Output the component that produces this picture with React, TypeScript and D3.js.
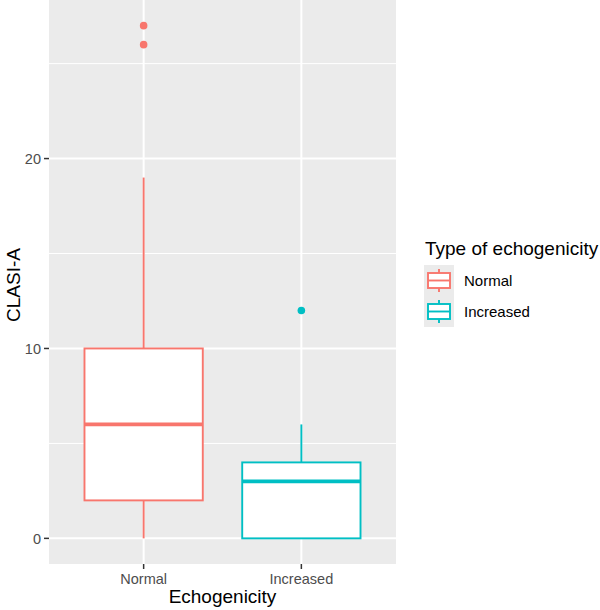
import React from "react";
import * as d3 from "d3";

const categories = ["Normal", "Increased"];
const colors = ["#F8766D", "#00BFC4"];
const lowerWhisker = [0, 0];
const q1 = [2, 0];
const median = [6, 3];
const q3 = [10, 4];
const upperWhisker = [19, 6];
const outliers = [[26, 27], [12]];
const yMajor = [0, 10, 20];
const yMinor = [5, 15, 25];

export default function App() {
  const W = 600, H = 610;
  const pl = 49, pr = 396, pt = 0, pb = 564;
  const y = d3.scaleLinear().domain([-1.35, 28.35]).range([pb, pt]);
  const x = d3.scaleLinear().domain([0.4, 2.6]).range([pl, pr]);
  const bw = 0.75;
  const font = "Liberation Sans, Arial, sans-serif";
  const lw = 1.9;
  return (
    <svg width={W} height={H} style={{ position: "absolute", left: 0, top: 0 }} fontFamily={font}>
      <rect x={0} y={0} width={W} height={H} fill="#fff" />
      <rect x={pl} y={pt} width={pr - pl} height={pb - pt} fill="#EBEBEB" />
      {yMinor.map((v) => (
        <line key={"mn" + v} x1={pl} x2={pr} y1={y(v)} y2={y(v)} stroke="#fff" strokeWidth={1} />
      ))}
      {yMajor.map((v) => (
        <line key={"mj" + v} x1={pl} x2={pr} y1={y(v)} y2={y(v)} stroke="#fff" strokeWidth={2} />
      ))}
      {categories.map((c, i) => (
        <line key={"vx" + c} x1={x(i + 1)} x2={x(i + 1)} y1={pt} y2={pb} stroke="#fff" strokeWidth={2} />
      ))}
      {categories.map((c, i) => {
        const cx = x(i + 1);
        const x0 = x(i + 1 - bw / 2), x1 = x(i + 1 + bw / 2);
        const col = colors[i];
        return (
          <g key={"box" + c}>
            <line x1={cx} x2={cx} y1={y(q3[i])} y2={y(upperWhisker[i])} stroke={col} strokeWidth={lw} />
            <line x1={cx} x2={cx} y1={y(q1[i])} y2={y(lowerWhisker[i])} stroke={col} strokeWidth={lw} />
            <rect x={x0} y={y(q3[i])} width={x1 - x0} height={y(q1[i]) - y(q3[i])} fill="#fff" stroke={col} strokeWidth={lw} />
            <line x1={x0} x2={x1} y1={y(median[i])} y2={y(median[i])} stroke={col} strokeWidth={3.6} />
            {outliers[i].map((o, j) => (
              <circle key={j} cx={cx} cy={y(o)} r={3.8} fill={col} />
            ))}
          </g>
        );
      })}
      {yMajor.map((v) => (
        <g key={"yt" + v}>
          <line x1={pl - 5} x2={pl} y1={y(v)} y2={y(v)} stroke="#333" strokeWidth={1.5} />
          <text x={pl - 8} y={y(v)} dy="0.36em" textAnchor="end" fontSize={14.5} fill="#4D4D4D">{v}</text>
        </g>
      ))}
      {categories.map((c, i) => (
        <g key={"xt" + c}>
          <line x1={x(i + 1)} x2={x(i + 1)} y1={pb} y2={pb + 5} stroke="#333" strokeWidth={1.5} />
          <text x={x(i + 1)} y={pb + 20} textAnchor="middle" fontSize={14.5} fill="#4D4D4D">{c}</text>
        </g>
      ))}
      <text x={(pl + pr) / 2} y={603} textAnchor="middle" fontSize={19} fill="#000">Echogenicity</text>
      <text transform={`translate(20,285) rotate(-90)`} textAnchor="middle" fontSize={19} fill="#000">CLASI-A</text>
      <text x={425} y={255} fontSize={19} fill="#000">Type of echogenicity</text>
      {categories.map((c, i) => {
        const ky = 265 + i * 31;
        const kx = 424;
        const col = colors[i];
        const cx = kx + 15;
        return (
          <g key={"lg" + c}>
            <rect x={kx} y={ky} width={30} height={31} fill="#EBEBEB" />
            <line x1={cx} x2={cx} y1={ky + 4} y2={ky + 27} stroke={col} strokeWidth={lw} />
            <rect x={kx + 4} y={ky + 8} width={22} height={15} fill="#fff" stroke={col} strokeWidth={lw} />
            <line x1={kx + 4} x2={kx + 26} y1={ky + 15.5} y2={ky + 15.5} stroke={col} strokeWidth={lw} />
            <text x={464} y={ky + 15.5} dy="0.36em" fontSize={15} fill="#000">{c}</text>
          </g>
        );
      })}
    </svg>
  );
}
